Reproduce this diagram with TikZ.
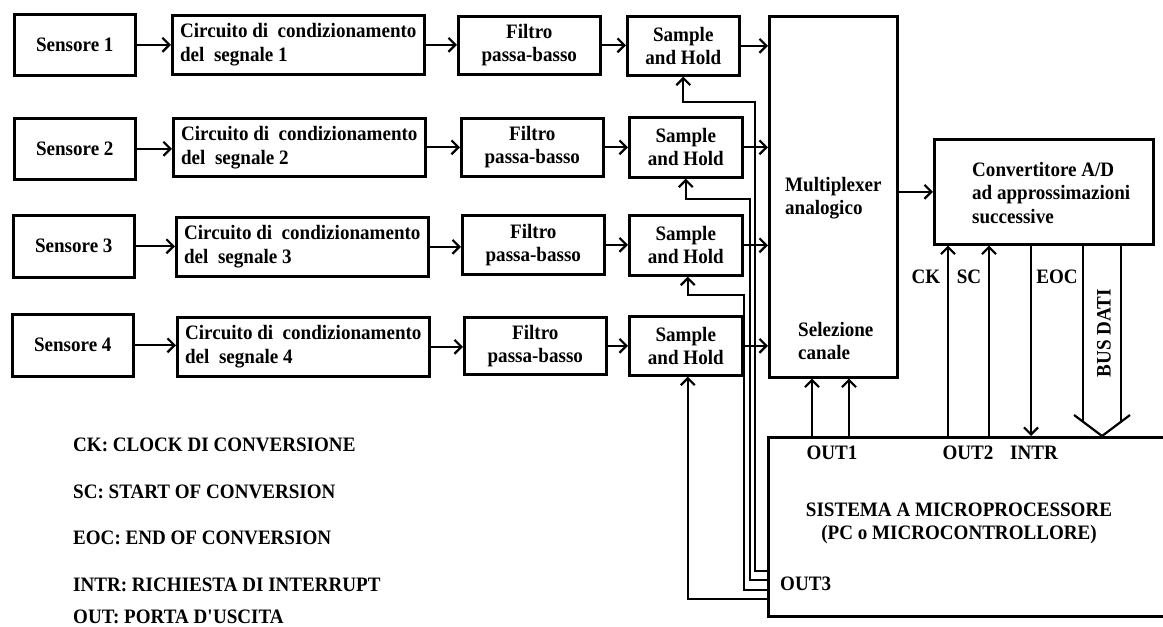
\documentclass[tikz,border=0pt]{standalone}
\usepackage{fontspec}
\setmainfont{Liberation Serif}[FakeStretch=0.93]
\usetikzlibrary{arrows.meta,calc}
\tikzset{
  box/.style={draw, line width=2.6pt, inner sep=0pt, anchor=north west, align=center,
    font=\fontsize{20.5}{23}\selectfont\bfseries},
  lbl/.style={inner sep=0pt, font=\fontsize{20.5}{23}\selectfont\bfseries},
  arr/.style={line width=2.2pt, -{Straight Barb[length=7pt,width=14pt]}},
  ln/.style={line width=2.2pt},
}
\begin{document}
\begin{tikzpicture}[x=1pt,y=-1pt]
\useasboundingbox[fill=white] (0,0) rectangle (1163,627);
% row 1
\node[box, minimum width=121pt, minimum height=61pt] (s1) at (13,13) {Sensore 1};
\node[box, minimum width=252pt, minimum height=59pt, align=left, font=\fontsize{20.5}{24}\selectfont\bfseries] (c1) at (171,14) {Circuito di~ condizionamento\\del~ segnale 1};
\node[box, minimum width=142pt, minimum height=58pt] (f1) at (457,15) {Filtro\\passa-basso};
\node[box, minimum width=112pt, minimum height=59pt] (sh1) at (626,15) {Sample\\and Hold};
% row 2
\node[box, minimum width=121pt, minimum height=61pt] (s2) at (13,117) {Sensore 2};
\node[box, minimum width=252pt, minimum height=58pt, align=left, font=\fontsize{20.5}{24}\selectfont\bfseries] (c2) at (172,117) {Circuito di~ condizionamento\\del~ segnale 2};
\node[box, minimum width=142pt, minimum height=58pt] (f2) at (460,117) {Filtro\\passa-basso};
\node[box, minimum width=113pt, minimum height=60pt] (sh2) at (628,116) {Sample\\and Hold};
% row 3
\node[box, minimum width=121pt, minimum height=62pt] (s3) at (12,214) {Sensore 3};
\node[box, minimum width=252pt, minimum height=59pt, align=left, font=\fontsize{20.5}{24}\selectfont\bfseries] (c3) at (175,216) {Circuito di~ condizionamento\\del~ segnale 3};
\node[box, minimum width=142pt, minimum height=59pt] (f3) at (461,214) {Filtro\\passa-basso};
\node[box, minimum width=113pt, minimum height=60pt] (sh3) at (628,214) {Sample\\and Hold};
% row 4
\node[box, minimum width=121pt, minimum height=62pt] (s4) at (11,313) {Sensore 4};
\node[box, minimum width=252pt, minimum height=59pt, align=left, font=\fontsize{20.5}{24}\selectfont\bfseries] (c4) at (176,316) {Circuito di~ condizionamento\\del~ segnale 4};
\node[box, minimum width=142pt, minimum height=57pt] (f4) at (463,316) {Filtro\\passa-basso};
\node[box, minimum width=113pt, minimum height=59pt] (sh4) at (628,315) {Sample\\and Hold};
% multiplexer
\node[box, minimum width=128pt, minimum height=361pt] (mux) at (768,15) {};
\node[lbl, anchor=west, align=left] (muxt) at (785,198) {Multiplexer\\analogico};
\node[lbl, anchor=west, align=left] (selt) at (798,341) {Selezione\\canale};
% ADC
\node[box, minimum width=219pt, minimum height=105pt] (adc) at (933,138) {};
\node[lbl, anchor=west, align=left, font=\fontsize{20.5}{23.5}\selectfont\bfseries] (adct) at (972,193) {Convertitore A/D\\ad approssimazioni\\successive};
% microprocessor
\node[box, minimum width=430pt, minimum height=179pt] (mp) at (767,436) {};
\node[lbl, align=center] (mpt) at (959,523) {SISTEMA A MICROPROCESSORE\\(PC o MICROCONTROLLORE)};
\node[lbl] (out1) at (832,453) {OUT1};
\node[lbl] (out2) at (968,453) {OUT2};
\node[lbl] (intr) at (1034,453) {INTR};
\node[lbl, anchor=west] (out3) at (780,584) {OUT3};
% signal labels
\node[lbl] (ck) at (926,277) {CK};
\node[lbl] (sc) at (969,277) {SC};
\node[lbl] (eoc) at (1057,277) {EOC};
\node[lbl, rotate=90] (bus) at (1104,333) {BUS DATI};
% legend
\node[lbl, anchor=west] (l1) at (73,445) {CK: CLOCK DI CONVERSIONE};
\node[lbl, anchor=west] (l2) at (73,492) {SC: START OF CONVERSION};
\node[lbl, anchor=west] (l3) at (73,538) {EOC: END OF CONVERSION};
\node[lbl, anchor=west] (l4) at (73,585) {INTR: RICHIESTA DI INTERRUPT};
\node[lbl, anchor=west] (l5) at (73,617) {OUT: PORTA D\textquotesingle USCITA};
% chain arrows
\foreach \i in {1,2,3,4}{
  \draw[arr] (s\i.east) -- (s\i.east -| c\i.west);
  \draw[arr] (c\i.east) -- (c\i.east -| f\i.west);
  \draw[arr] (f\i.east) -- (f\i.east -| sh\i.west);
  \draw[arr] (sh\i.east) -- (sh\i.east -| mux.west);
}
\draw[arr] (adc.west -| mux.east) -- (adc.west);
% OUT3 control lines
\coordinate (o3a) at (767,571);
\coordinate (o3b) at (767,580);
\coordinate (o3c) at (767,590);
\coordinate (o3d) at (767,599);
\draw[arr] (o3a) -| (755,102) -| (sh1.south);
\draw[arr] (o3b) -| (750,199) -| (sh2.south);
\draw[arr] (o3c) -| (744,295) -| ($(sh3.south)+(2,0)$);
\draw[arr] (o3d) -| ($(sh4.south)+(2,0)$);
% OUT1 to mux
\coordinate (xa) at (812,0);
\coordinate (xb) at (849,0);
\draw[arr] (xa |- mp.north) -- (xa |- mux.south);
\draw[arr] (xb |- mp.north) -- (xb |- mux.south);
% CK, SC, EOC
\coordinate (xck) at (948,0);
\coordinate (xsc) at (989,0);
\coordinate (xeoc) at (1031,0);
\draw[arr] (xck |- mp.north) -- (xck |- adc.south);
\draw[arr] (xsc |- mp.north) -- (xsc |- adc.south);
\draw[arr] (xeoc |- adc.south) -- (xeoc |- mp.north);
% bus dati
\coordinate (bl) at (1083,0);
\coordinate (br) at (1121,0);
\coordinate (btip) at (1102,436);
\draw[ln] (bl |- adc.south) -- (1083,421.75);
\draw[ln] (br |- adc.south) -- (1121,421.75);
\draw[ln, line join=miter] (1074,415) -- (btip) -- (1130,415);
\end{tikzpicture}
\end{document}
